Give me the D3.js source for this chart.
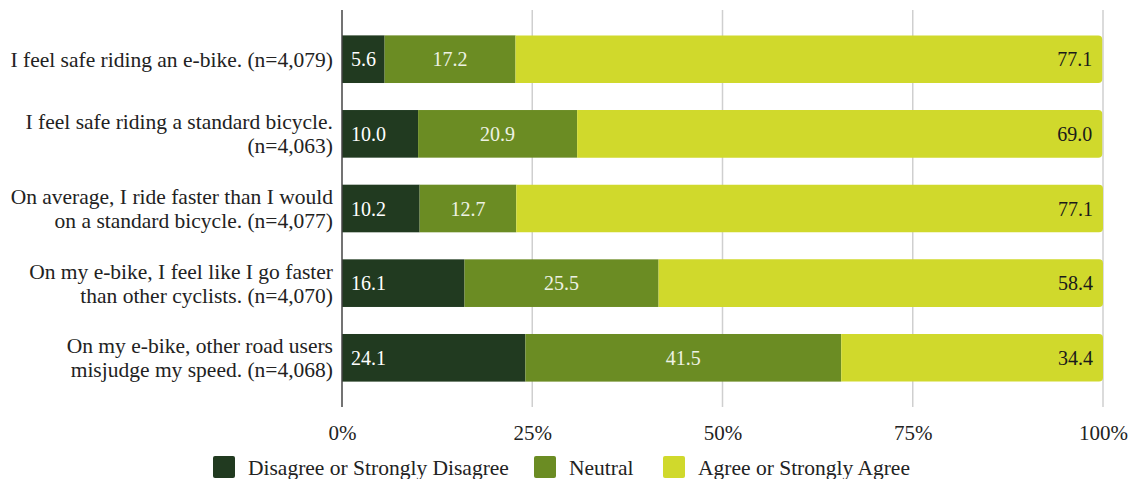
<!DOCTYPE html>
<html>
<head>
<meta charset="utf-8">
<script src="https://cdn.jsdelivr.net/npm/d3@7"></script>
<style>
  html, body { margin: 0; padding: 0; background: #fff; }
  svg { display: block; }
</style>
</head>
<body>
<svg id="chart" width="1138" height="479"></svg>
<script>
// Survey statements (each entry is the list of wrapped label lines)
const statements = [
  ["I feel safe riding an e-bike. (n=4,079)"],
  ["I feel safe riding a standard bicycle.", "(n=4,063)"],
  ["On average, I ride faster than I would", "on a standard bicycle. (n=4,077)"],
  ["On my e-bike, I feel like I go faster", "than other cyclists. (n=4,070)"],
  ["On my e-bike, other road users", "misjudge my speed. (n=4,068)"]
];
const disagree = [5.6, 10.0, 10.2, 16.1, 24.1];
const neutral  = [17.2, 20.9, 12.7, 25.5, 41.5];
const agree    = [77.1, 69.0, 77.1, 58.4, 34.4];
const seriesNames = ["Disagree or Strongly Disagree", "Neutral", "Agree or Strongly Agree"];
const tickValues = [0, 25, 50, 75, 100];

const FONT = "Liberation Serif";
const colors = ["#213a20", "#6b8c23", "#d0d92c"];
const textColors = ["#ffffff", "#eef2e4", "#1a1a1a"];

const svg = d3.select("#chart");
const plotLeft = 342, plotRight = 1103, plotTop = 10, plotBottom = 407;

const x = d3.scaleLinear().domain([0, 100]).range([plotLeft, plotRight]);
const y = d3.scaleBand()
  .domain(d3.range(statements.length))
  .range([plotTop, plotBottom])
  .paddingInner(0.362)
  .paddingOuter(0.34);

// Gridlines
svg.append("g")
  .selectAll("line")
  .data(tickValues.filter(t => t > 0))
  .join("line")
  .attr("x1", d => x(d)).attr("x2", d => x(d))
  .attr("y1", plotTop).attr("y2", plotBottom)
  .attr("stroke", "#cfcfcf").attr("stroke-width", 1.5);

// Stacked rows
const rows = statements.map((s, i) => ({ i, vals: [disagree[i], neutral[i], agree[i]] }));
const rowG = svg.append("g").selectAll("g").data(rows).join("g");

rowG.each(function(row) {
  const g = d3.select(this);
  const y0 = y(row.i), h = y.bandwidth();
  let acc = 0;
  row.vals.forEach((v, k) => {
    const x0 = x(acc), x1 = x(acc + v);
    acc += v;
    if (k === 2) {
      // last segment: rounded on the right end only
      const r = 4;
      const p = d3.path();
      p.moveTo(x0, y0);
      p.lineTo(x1 - r, y0);
      p.quadraticCurveTo(x1, y0, x1, y0 + r);
      p.lineTo(x1, y0 + h - r);
      p.quadraticCurveTo(x1, y0 + h, x1 - r, y0 + h);
      p.lineTo(x0, y0 + h);
      p.closePath();
      g.append("path").attr("d", p.toString()).attr("fill", colors[k]);
    } else {
      g.append("rect")
        .attr("x", x0).attr("y", y0)
        .attr("width", x1 - x0).attr("height", h)
        .attr("fill", colors[k]);
    }
    const label = g.append("text")
      .attr("y", y0 + h / 2)
      .attr("dy", "0.35em")
      .style("font-family", FONT)
      .style("font-size", "20px")
      .attr("fill", textColors[k])
      .text(v.toFixed(1));
    if (k === 0) label.attr("x", x0 + 9).attr("text-anchor", "start");
    else if (k === 1) label.attr("x", (x0 + x1) / 2).attr("text-anchor", "middle");
    else label.attr("x", x1 - 10).attr("text-anchor", "end");
  });
});

// Baseline axis line at 0%
svg.append("line")
  .attr("x1", x(0)).attr("x2", x(0))
  .attr("y1", plotTop).attr("y2", plotBottom)
  .attr("stroke", "#444").attr("stroke-width", 1.5);

// Category labels
const lineH = 24;
svg.append("g").selectAll("text")
  .data(statements)
  .join("text")
  .attr("text-anchor", "end")
  .style("font-family", FONT)
  .style("font-size", "21.5px")
  .attr("fill", "#222")
  .each(function(lines, i) {
    const cy = y(i) + y.bandwidth() / 2;
    const start = cy - (lines.length - 1) * lineH / 2;
    d3.select(this).selectAll("tspan")
      .data(lines)
      .join("tspan")
      .attr("x", 333)
      .attr("y", (d, j) => start + j * lineH)
      .attr("dy", "0.35em")
      .text(d => d);
  });

// X axis tick labels
const xAxis = d3.axisBottom(x)
  .tickValues(tickValues)
  .tickFormat(d => d + "%")
  .tickSize(0)
  .tickPadding(0);
const axG = svg.append("g")
  .attr("transform", `translate(0, ${plotBottom + 18})`)
  .call(xAxis);
axG.select(".domain").remove();
axG.selectAll("text")
  .style("font-family", FONT)
  .style("font-size", "21px")
  .attr("fill", "#222");

// Legend
const legendItems = [
  { name: seriesNames[0], color: colors[0], x: 213 },
  { name: seriesNames[1], color: colors[1], x: 534 },
  { name: seriesNames[2], color: colors[2], x: 663 }
];
const lg = svg.append("g").selectAll("g").data(legendItems).join("g")
  .attr("transform", d => `translate(${d.x}, 456)`);
lg.append("rect")
  .attr("width", 22).attr("height", 22).attr("rx", 2)
  .attr("fill", d => d.color);
lg.append("text")
  .attr("x", 35).attr("y", 11).attr("dy", "0.35em")
  .style("font-family", FONT)
  .style("font-size", "21.5px")
  .attr("fill", "#222")
  .text(d => d.name);
</script>
</body>
</html>
